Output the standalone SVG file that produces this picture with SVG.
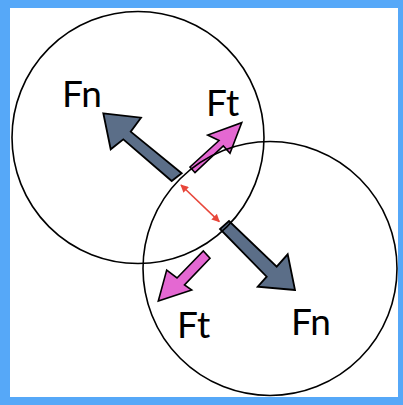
<svg xmlns="http://www.w3.org/2000/svg" width="403" height="405" viewBox="0 0 403 405">
<style>
.circ{fill:none;stroke:#000;stroke-width:1.6}
.fn{fill:#5b6e88;stroke:#000;stroke-width:1.8;stroke-linejoin:miter}
.ft{fill:#e468d2;stroke:#000;stroke-width:1.6}
.lbl{font-family:Lato,"Open Sans",sans-serif;font-size:37px;fill:#000}
.gap{stroke:#e8473b;stroke-width:1.6;fill:none}
</style>
<defs>
<marker id="rh" viewBox="0 0 10 10" refX="9" refY="5" markerWidth="8" markerHeight="8" orient="auto-start-reverse" markerUnits="userSpaceOnUse">
<path d="M0,0 L10,5 L0,10 z" fill="#e8473b"/>
</marker>
</defs>
<rect x="0" y="0" width="403" height="405" fill="#56a8f8"/>
<rect x="10" y="8" width="388" height="389" fill="#fff"/>
<g id="connectors">
<polygon id="fn1" class="fn" points="103.3,113.3 141,117.7 130.7,131.7 181.7,173.3 171.7,181 123.3,139.3 110.7,149.3"/>
<polygon id="fn2" class="fn" points="295,290 257.7,286.7 266.7,276.7 220,229 229,221 276.7,266.7 287.7,254.3"/>
<polygon id="ft1" class="ft" points="241.7,122.7 230,153.3 223.3,146 195,172.7 190,167 219,140.5 207.7,135"/>
<polygon id="ft2" class="ft" points="158.3,301 166.7,270 177,278 203.3,251 210,258.3 184.5,285 191.7,290"/>
<line id="gap" class="gap" x1="181" y1="185" x2="219.3" y2="221.7" marker-start="url(#rh)" marker-end="url(#rh)"/>
</g>
<g id="particle1"><circle class="circ" cx="138" cy="137.5" r="126"/></g>
<g id="particle2"><circle class="circ" cx="270" cy="268.5" r="127"/></g>
<g id="labels">
<text class="lbl" x="62" y="107">Fn</text>
<text class="lbl" x="206" y="116">Ft</text>
<text class="lbl" x="177" y="338">Ft</text>
<text class="lbl" x="291" y="335">Fn</text>
</g>
</svg>
